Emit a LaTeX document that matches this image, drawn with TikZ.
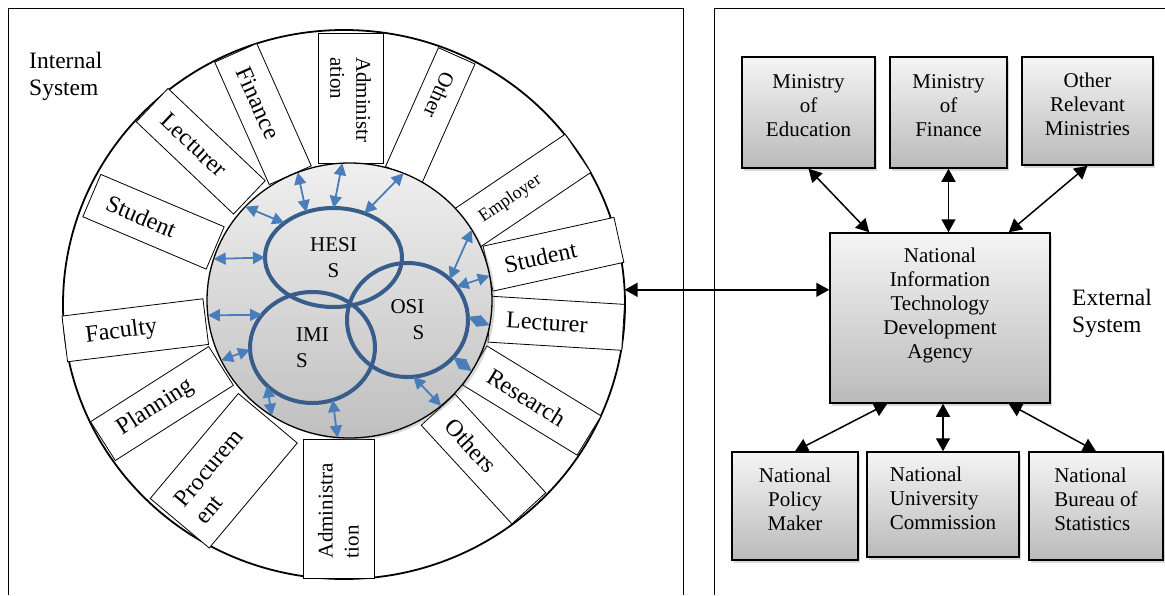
\documentclass[tikz,border=0pt]{standalone}
\usepackage{fontspec}
\setmainfont{Liberation Serif}
\usetikzlibrary{shapes.geometric,arrows.meta,shadows}
\definecolor{sysblue}{HTML}{385D8A}
\definecolor{flowblue}{HTML}{4A7EBB}

\begin{document}
\begin{tikzpicture}[x=1pt,y=-1pt,
  frame/.style={line width=1pt},
  ringbox/.style={draw,fill=white,line width=0.8pt,minimum width=134pt,minimum height=46pt,inner sep=1pt,text width=100pt,align=left,font=\fontsize{24}{27}\selectfont},
  subsys/.style={ellipse,draw=sysblue,line width=4pt,outer sep=0pt,align=center,font=\fontsize{21}{26}\selectfont},
  flow/.style={draw=flowblue,line width=1.8pt,{Triangle[length=12pt,width=12pt]}-{Triangle[length=12pt,width=12pt]}},
  extbox/.style={draw,line width=1.5pt,top color=black!4,bottom color=black!27,drop shadow={shadow xshift=2pt,shadow yshift=-3pt,opacity=0.3},align=center,font=\fontsize{21}{24}\selectfont,text depth=13pt},
  link/.style={line width=1.5pt,{Triangle[length=13pt,width=14pt]}-{Triangle[length=13pt,width=14pt]}},
  sysname/.style={anchor=north west,inner sep=0pt,align=left,font=\fontsize{23.5}{27}\selectfont}]
    \useasboundingbox (0,0) rectangle (1165,595);
    \draw[frame] (8,595) -- (8,8) -- (683,8) -- (683,595);
    \draw[frame] (714,595) -- (714,8) -- (1165,8);
    \node[sysname] (intl) at (29,52) {Internal\\System};
    \node[sysname] (extl) at (1072,289) {External\\System};

    \node[ellipse,draw,line width=1.8pt,fill=white,minimum width=562pt,minimum height=549pt,outer sep=0pt] (outer) at (344,304.5) {};
    \node[ringbox,rotate=-23] (stu1) at (153.5,221.75) {Student};
    \node[ringbox,rotate=-43.5] (lec1) at (200.75,151.25) {Lecturer};
    \node[ringbox,rotate=-66] (fin) at (263,114) {Finance};
    \node[ringbox,rotate=-90,minimum width=130pt,minimum height=65pt,text width=82pt,font=\fontsize{21}{26}\selectfont] (adm1) at (350.5,98) {Administr\\ation};
    \node[ringbox,rotate=-114,minimum width=130pt,minimum height=40pt,text width=92pt,font=\fontsize{21}{24}\selectfont] (oth1) at (430.25,115.25) {Other};
    \node[ringbox,rotate=34,font=\fontsize{18}{21}\selectfont] (emp) at (522.5,190.75) {Employer};
    \node[ringbox,rotate=12.4] (stu2) at (553.5,254.25) {Student};
    \node[ringbox,rotate=-3.5] (lec2) at (556.25,323.25) {Lecturer};
    \node[ringbox,rotate=-31.5] (res) at (532,400.5) {Research};
    \node[ringbox,rotate=-47.4] (oth2) at (483.5,459) {Others};
    \node[ringbox,rotate=90,minimum width=139pt,minimum height=71pt,text width=99pt,font=\fontsize{21}{26}\selectfont] (adm2) at (338.5,508.5) {Administra\\tion};
    \node[ringbox,rotate=50,minimum width=137pt,minimum height=77pt,text width=108pt] (proc) at (223.75,470.75) {Procurem\\ent};
    \node[ringbox,rotate=32.5,minimum width=140pt] (plan) at (162,403.5) {Planning};
    \node[ringbox,rotate=7,minimum width=142pt] (fac) at (135.25,330.25) {Faculty};

    \node[ellipse,draw,line width=1.3pt,top color=black!6,bottom color=black!25,drop shadow={shadow xshift=3pt,shadow yshift=-2pt,opacity=0.3},minimum width=285pt,minimum height=275pt,outer sep=0pt] (core) at (349.5,300.5) {};
    \node[subsys,minimum width=137pt,minimum height=99pt] (hesis) at (333.5,257.5) {HESI\\S};
    \node[subsys,minimum width=125pt,minimum height=111pt,align=left] (imis) at (312.5,347.5) {IMI\\S};
    \node[subsys,minimum width=121pt,minimum height=114pt,align=right] (osis) at (407.5,320) {OSI\\S};

    \draw[flow] (core.138) -- (hesis.145);
    \draw[flow] (core.112) -- (hesis.121);
    \draw[flow] (core.93) -- (hesis.90);
    \draw[flow] (core.67) -- (hesis.55);
    \draw[flow] (core.163) -- (hesis.180);
    \draw[flow] (core.30) -- (osis.44);
    \draw[flow] (core.10) -- (osis.34);
    \draw[flow] (core.350) -- (osis.3);
    \draw[flow] (osis.321) -- (core.330);
    \draw[flow] (osis.276) -- (core.311);
    \draw[flow] (core.186) -- (imis.147);
    \draw[flow] (core.205) -- (imis.182);
    \draw[flow] (imis.220) -- (core.236);
    \draw[flow] (imis.291) -- (core.265);

    \node[extbox,minimum width=133pt,minimum height=111pt] (moe) at (808.5,112.5) {Ministry\\of\\Education};
    \node[extbox,minimum width=117pt,minimum height=111pt] (mof) at (948.5,112.5) {Ministry\\of\\Finance};
    \node[extbox,minimum width=131pt,minimum height=108pt] (orm) at (1087.5,111) {Other\\Relevant\\Ministries};
    \node[extbox,minimum width=220pt,minimum height=170pt,text depth=30pt] (nitda) at (940,318) {National\\Information\\Technology\\Development\\Agency};
    \node[extbox,minimum width=126pt,minimum height=108pt] (npm) at (795,506) {National\\Policy\\Maker};
    \node[extbox,minimum width=152pt,minimum height=105pt,align=left] (nuc) at (943,504.5) {National\\University\\Commission};
    \node[extbox,minimum width=134pt,minimum height=108pt,align=left] (nbs) at (1096,506) {National\\Bureau of\\Statistics};

    \draw[link] (moe.south) -- ([xshift=40pt]nitda.north west);
    \draw[link] (mof.south) -- (mof.south |- nitda.north);
    \draw[link] (orm.south) -- ([xshift=-42pt]nitda.north east);
    \draw[link] ([xshift=58pt]nitda.south west) -- (npm.north);
    \draw[link] (nitda.south -| nuc.north) -- (nuc.north);
    \draw[link] ([xshift=-42pt]nitda.south east) -- (nbs.north);
    \draw[link] (outer.3) -- (outer.3 -| nitda.west);
\end{tikzpicture}
\end{document}
